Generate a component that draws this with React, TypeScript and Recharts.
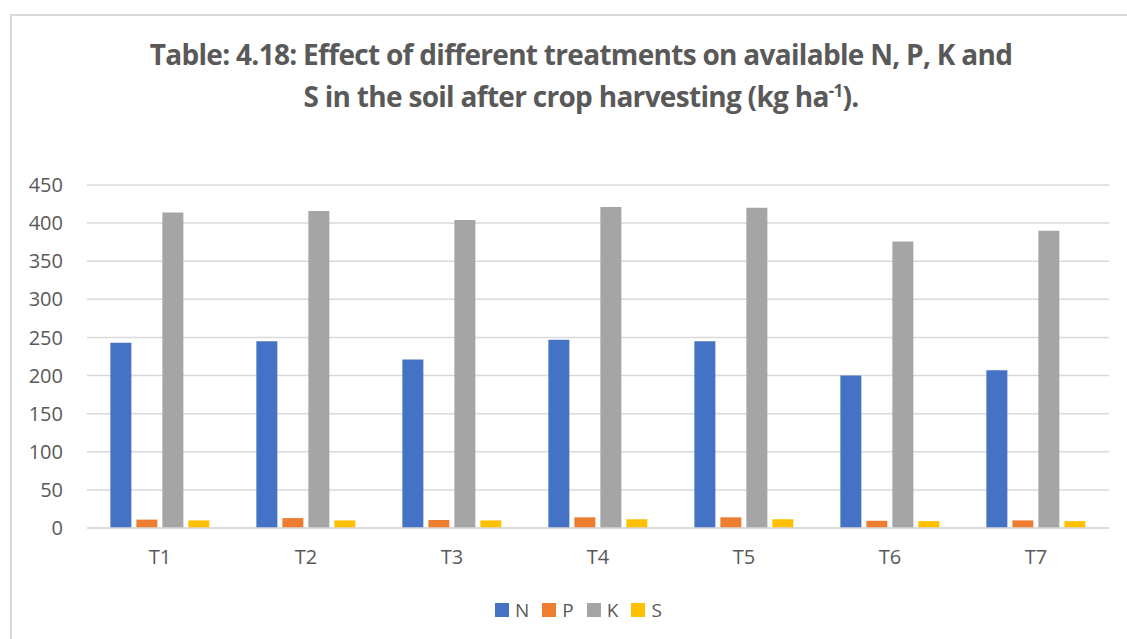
import { Bar, BarChart, CartesianGrid, XAxis, YAxis } from 'recharts';

const treatments = ['T1', 'T2', 'T3', 'T4', 'T5', 'T6', 'T7'];
const nValues = [243, 245, 221, 247, 245, 200, 207];
const pValues = [11, 13, 10.5, 14, 14, 9.5, 10];
const kValues = [414, 416, 404, 421, 420, 376, 390];
const sValues = [10, 10, 10, 11.5, 11.5, 9, 9];
const yTicks = [0, 50, 100, 150, 200, 250, 300, 350, 400, 450];

const series = [
  { key: 'N', values: nValues, color: '#4472c4' },
  { key: 'P', values: pValues, color: '#ed7d31' },
  { key: 'K', values: kValues, color: '#a5a5a5' },
  { key: 'S', values: sValues, color: '#ffc000' },
];

const data = treatments.map((name, i) => {
  const row: Record<string, string | number> = { name };
  series.forEach((s) => {
    row[s.key] = s.values[i];
  });
  return row;
});

const font = '"Open Sans", sans-serif';
const tickStyle = { fontSize: 20, fill: '#595959', fontFamily: font };

export default function App() {
  return (
    <div
      style={{
        position: 'fixed',
        left: 0,
        top: 0,
        width: 1127,
        height: 639,
        background: '#fff',
        overflow: 'hidden',
      }}
    >
      <div
        style={{
          position: 'absolute',
          left: 10,
          top: 14,
          width: 1200,
          height: 700,
          borderTop: '2px solid #d9d9d9',
          borderLeft: '2px solid #d9d9d9',
        }}
      />
      <div
        style={{
          position: 'absolute',
          left: 0,
          top: 33,
          width: 1162,
          textAlign: 'center',
          fontFamily: font,
          fontWeight: 700,
          fontSize: 28,
          lineHeight: '42px',
          color: '#595959',
          letterSpacing: -0.7,
        }}
      >
        Table: 4.18: Effect of different treatments on available N, P, K and
        <br />
        S in the soil after crop harvesting (kg ha<sup style={{ fontSize: 17, lineHeight: 0 }}>-1</sup>).
      </div>
      <div style={{ position: 'absolute', left: 0, top: 0 }}>
        <BarChart
          width={1127}
          height={639}
          data={data}
          margin={{ top: 185, right: 18, left: 0, bottom: 71 }}
          barCategoryGap="16%"
          barGap={5}
        >
          <CartesianGrid vertical={false} stroke="#d9d9d9" strokeWidth={1.5} />
          <XAxis
            dataKey="name"
            height={40}
            axisLine={{ stroke: '#d9d9d9', strokeWidth: 1.5 }}
            tickLine={false}
            tickSize={0}
            tickMargin={22}
            tick={tickStyle}
          />
          <YAxis
            width={87}
            domain={[0, 450]}
            ticks={yTicks}
            axisLine={false}
            tickLine={false}
            tickSize={0}
            tickMargin={24}
            tick={tickStyle}
          />
          {series.map((s) => (
            <Bar key={s.key} dataKey={s.key} fill={s.color} isAnimationActive={false} />
          ))}
        </BarChart>
      </div>
      <div
        style={{
          position: 'absolute',
          left: 495,
          top: 598,
          display: 'flex',
          gap: 13,
          fontFamily: font,
          fontSize: 19,
          color: '#595959',
          lineHeight: '24px',
        }}
      >
        {series.map((s) => (
          <div key={s.key} style={{ display: 'flex', alignItems: 'center', gap: 6 }}>
            <span style={{ display: 'inline-block', width: 14, height: 14, background: s.color }} />
            <span>{s.key}</span>
          </div>
        ))}
      </div>
    </div>
  );
}
